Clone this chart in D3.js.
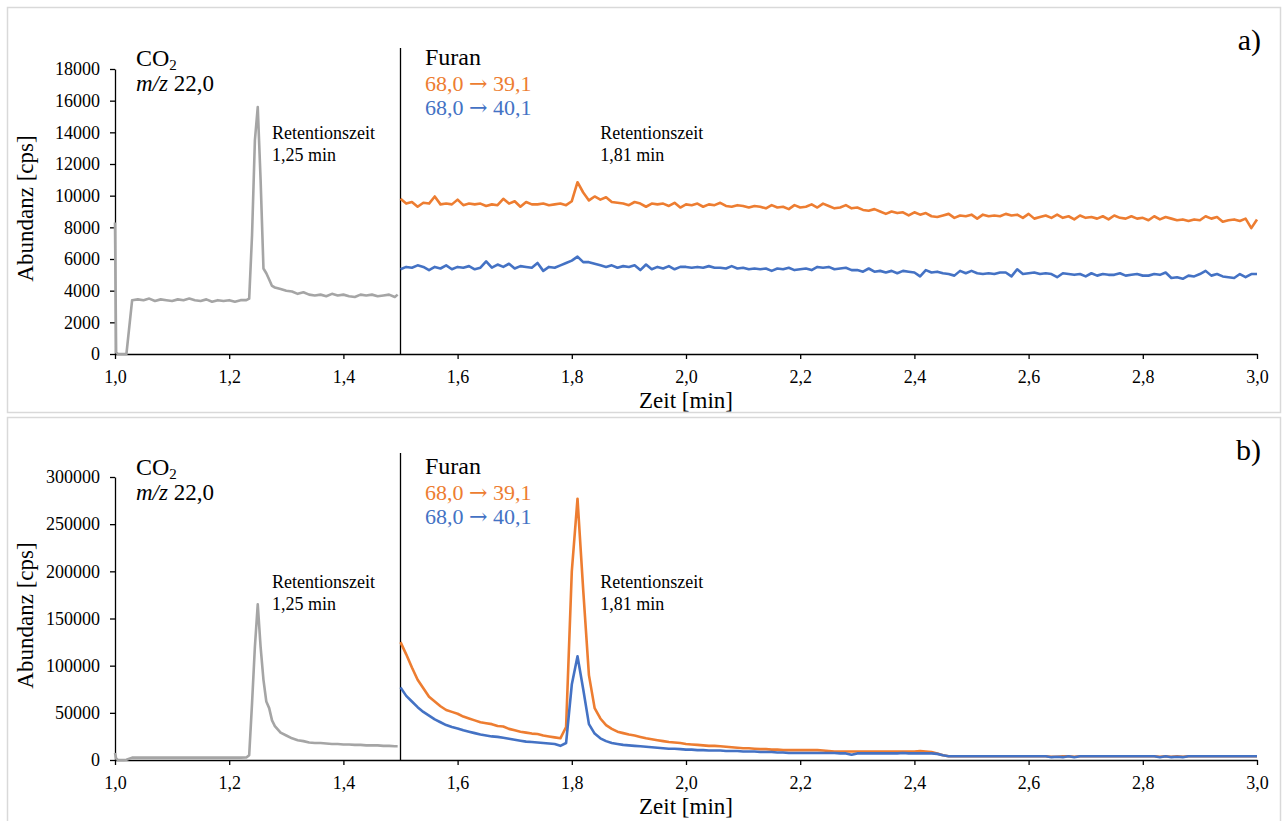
<!DOCTYPE html>
<html lang="de">
<head>
<meta charset="utf-8">
<script src="https://cdn.jsdelivr.net/npm/d3@7"></script>
<style>
  html, body { margin: 0; padding: 0; background: #fff; }
  svg { display: block; }
  text { font-family: "Liberation Serif", "Times New Roman", serif; fill: #000; }
</style>
</head>
<body>
<svg id="chart" width="1282" height="821"></svg>
<script>
/* ── Daten ─────────────────────────────────────────────── */

// Zeitpunkte der CO2-Spur (min)
const zeitCO2 = [
  1.000, 1.002, 1.005, 1.010, 1.015, 1.020,
  1.03, 1.04, 1.05, 1.06, 1.07, 1.08, 1.09, 1.10, 1.11, 1.12, 1.13,
  1.14, 1.15, 1.16, 1.17, 1.18, 1.19, 1.20, 1.21, 1.22, 1.23,
  1.235, 1.240, 1.245, 1.250, 1.255, 1.260, 1.265, 1.270, 1.275, 1.280,
  1.29, 1.30, 1.31, 1.32, 1.33, 1.34, 1.35, 1.36, 1.37, 1.38, 1.39,
  1.40, 1.41, 1.42, 1.43, 1.44, 1.45, 1.46, 1.47, 1.48, 1.49, 1.495
];

// CO2 m/z 22,0 – Messung a)
const co2A = [
  8300, 100, 0, 0, 0, 0,
  3400, 3450, 3400, 3500, 3350, 3450, 3400, 3350, 3450, 3400, 3500,
  3400, 3350, 3450, 3300, 3400, 3350, 3400, 3300, 3400, 3400,
  3500, 7500, 13500, 15600, 11000, 5400, 5100, 4700, 4300, 4200,
  4100, 4000, 3950, 3800, 3900, 3750, 3700, 3750, 3650, 3800, 3700,
  3750, 3650, 3600, 3750, 3700, 3750, 3650, 3700, 3750, 3600, 3750
];

// CO2 m/z 22,0 – Messung b)
const co2B = [
  7500, 1500, 0, 0, 0, 300,
  2500, 2600, 2500, 2500, 2600, 2500, 2500, 2500, 2600, 2500, 2500,
  2500, 2600, 2500, 2500, 2500, 2500, 2600, 2500, 2500, 2600,
  5000, 60000, 120000, 165000, 120000, 85000, 62000, 55000, 42000, 36000,
  29000, 26000, 23000, 21000, 20000, 18500, 18000, 18000, 17500, 17000, 17000,
  16500, 16500, 16000, 16000, 15500, 15500, 15500, 15000, 15000, 14500, 14500
];

// Furan-Spuren: ein Wert je 0,01 min von 1,50 bis 3,00
const furan391A = [
  9800, 9500, 9600, 9300, 9550, 9500, 9950, 9450, 9500, 9450,
  9750, 9400, 9500, 9450, 9500, 9350, 9450, 9400, 9800, 9500,
  9650, 9300, 9600, 9450, 9450, 9500, 9400, 9450, 9500, 9400,
  9650, 10850, 10200, 9700, 9950, 9750, 9900, 9600, 9550, 9500,
  9400, 9600, 9500, 9300, 9500, 9450, 9500, 9350, 9550, 9250,
  9450, 9400, 9500, 9300, 9450, 9400, 9550, 9350, 9300, 9400,
  9350, 9250, 9350, 9300, 9200, 9400, 9250, 9300, 9150, 9400,
  9250, 9300, 9450, 9250, 9500, 9350, 9200, 9250, 9400, 9200,
  9250, 9100, 9050, 9150, 9000, 8850, 9000, 8900, 8950, 8750,
  8950, 8800, 8900, 8700, 8650, 8750, 8850, 8600, 8750, 8700,
  8800, 8550, 8800, 8700, 8750, 8700, 8850, 8750, 8800, 8600,
  8850, 8550, 8650, 8750, 8600, 8800, 8600, 8700, 8500, 8750,
  8600, 8650, 8550, 8700, 8500, 8750, 8600, 8550, 8700, 8550,
  8600, 8450, 8700, 8500, 8650, 8550, 8450, 8500, 8400, 8500,
  8450, 8700, 8550, 8650, 8350, 8450, 8500, 8400, 8550, 7950,
  8500
];

const furan401A = [
  5350, 5500, 5450, 5600, 5500, 5300, 5500, 5400, 5600, 5350,
  5500, 5450, 5550, 5350, 5450, 5850, 5450, 5650, 5500, 5700,
  5400, 5550, 5500, 5450, 5750, 5250, 5500, 5450, 5600, 5750,
  5900, 6150, 5800, 5800, 5700, 5600, 5500, 5600, 5450, 5550,
  5500, 5600, 5300, 5650, 5350, 5500, 5400, 5550, 5350, 5500,
  5500, 5450, 5500, 5450, 5550, 5450, 5450, 5400, 5550, 5400,
  5450, 5350, 5400, 5350, 5400, 5250, 5400, 5350, 5450, 5300,
  5350, 5400, 5300, 5500, 5450, 5500, 5350, 5400, 5450, 5300,
  5300, 5200, 5400, 5200, 5250, 5150, 5250, 5100, 5250, 5200,
  5150, 4900, 5300, 5150, 5200, 5100, 5050, 4950, 5250, 5100,
  5250, 5100, 5050, 5100, 5050, 5150, 5150, 4900, 5350, 5050,
  5100, 5150, 5050, 5100, 5050, 4850, 5100, 5050, 5000, 5050,
  4900, 5100, 4950, 5050, 5000, 5000, 5100, 4950, 5000, 5050,
  4950, 4950, 5050, 5000, 5150, 4800, 4850, 4750, 4950, 4900,
  5050, 5250, 4950, 5050, 4900, 4850, 4800, 5050, 4850, 5050,
  5050
];

const furan391B = [
  125000, 112000, 98000, 85000, 76000, 67000, 62000, 57000, 53000, 51000,
  49000, 46000, 44000, 42000, 40000, 39000, 38000, 36000, 35500, 33000,
  31500, 30000, 29000, 28000, 27500, 26000, 25000, 24000, 23000, 35000,
  200000, 277000, 180000, 90000, 55000, 44000, 37000, 33000, 30000, 28500,
  27000, 26000, 24500, 23000, 22000, 21000, 20000, 19000, 18500, 18000,
  17000, 16500, 16000, 15500, 15000, 15000, 14500, 14000, 13500, 13000,
  12500, 12500, 12000, 11500, 11500, 11000, 11000, 10500, 10500, 10500,
  10500, 10500, 10500, 10500, 10000, 9500, 9000, 9000, 9000, 9000,
  9000, 9000, 9000, 9000, 9000, 9000, 9000, 9000, 9000, 9000,
  9000, 9500, 9000, 8500, 7000, 5000, 4000, 4000, 4000, 4000,
  4000, 4000, 4000, 4000, 4000, 4000, 4000, 4000, 4000, 4000,
  4000, 4000, 4000, 4000, 3500, 3500, 4000, 4000, 3500, 4000,
  4000, 4000, 4000, 4000, 4000, 4000, 4000, 4000, 4000, 4000,
  4000, 4000, 4000, 3500, 4000, 3500, 4000, 3500, 4000, 4000,
  4000, 4000, 4000, 4000, 4000, 4000, 4000, 4000, 4000, 4000,
  4000
];

const furan401B = [
  77000, 68000, 62000, 56000, 51000, 47000, 43000, 40000, 37000, 35000,
  33500, 31500, 30000, 28500, 27000, 26000, 25000, 24500, 23500, 22500,
  21500, 20500, 19500, 19000, 18500, 18000, 17500, 17000, 15000, 18000,
  80000, 110000, 75000, 38000, 28000, 23000, 20000, 18000, 17000, 16000,
  15500, 15000, 14500, 14000, 13500, 13000, 12500, 12000, 12000, 11500,
  11000, 11000, 10500, 10500, 10000, 10000, 10000, 9500, 9500, 9500,
  9000, 9000, 9000, 8500, 8500, 8500, 8000, 8000, 7500, 7500,
  7500, 7500, 7500, 7500, 7500, 7500, 7500, 7000, 7000, 5500,
  7000, 7000, 7000, 7000, 7000, 7000, 7000, 7000, 7500, 7000,
  7000, 7000, 7000, 7000, 6500, 5000, 4000, 4000, 4000, 4000,
  4000, 4000, 4000, 4000, 4000, 4000, 4000, 4000, 4000, 4000,
  4000, 4000, 4000, 4000, 3000, 3500, 3000, 4000, 3000, 4000,
  4000, 4000, 4000, 4000, 4000, 4000, 4000, 4000, 4000, 4000,
  4000, 4000, 4000, 3000, 4000, 3000, 3500, 3000, 4000, 4000,
  4000, 4000, 4000, 4000, 4000, 4000, 4000, 4000, 4000, 4000,
  4000
];

// Achsen
const xTicks = [1.0, 1.2, 1.4, 1.6, 1.8, 2.0, 2.2, 2.4, 2.6, 2.8, 3.0];
const yTicksA = [0, 2000, 4000, 6000, 8000, 10000, 12000, 14000, 16000, 18000];
const yTicksB = [0, 50000, 100000, 150000, 200000, 250000, 300000];

const zeitFuran = d3.range(furan391A.length).map(i => +(1.5 + i / 100).toFixed(2));

/* ── Aufbau ────────────────────────────────────────────── */
(function() {
  const svg = d3.select("#chart");
  const farben = { co2: "#A5A5A5", f391: "#ED7D31", f401: "#4472C4" };
  const schrift = "'Liberation Serif', 'Times New Roman', serif";

  const panels = [
    { label: "a)", box: [8, 413], yBot: 354, yTop: 69, trenn: 48, ticks: yTicksA,
      co2: co2A, f391: furan391A, f401: furan401A,
      kopf: 66, furanKopf: 65, rt: 139 },
    { label: "b)", box: [418, 835], yBot: 760, yTop: 477, trenn: 453, ticks: yTicksB,
      co2: co2B, f391: furan391B, f401: furan401B,
      kopf: 475, furanKopf: 474, rt: 588 }
  ];

  const x = d3.scaleLinear().domain([1.0, 3.0]).range([115, 1257]);
  const fmtX = d => d.toFixed(1).replace(".", ",");

  panels.forEach(p => {
    // Rahmen
    svg.append("rect")
      .attr("x", 7.5).attr("y", p.box[0] - 0.5)
      .attr("width", 1273).attr("height", p.box[1] - p.box[0])
      .attr("fill", "none").attr("stroke", "#d9d9d9").attr("stroke-width", 1.5);

    const y = d3.scaleLinear()
      .domain([0, d3.max(p.ticks)])
      .range([p.yBot, p.yTop]);

    const g = svg.append("g");

    // Achsen
    const ax = g.append("g")
      .attr("transform", `translate(0,${p.yBot})`)
      .call(d3.axisBottom(x).tickValues(xTicks).tickFormat(fmtX)
        .tickSize(5).tickSizeOuter(0).tickPadding(11));
    const ay = g.append("g")
      .attr("transform", "translate(115,0)")
      .call(d3.axisLeft(y).tickValues(p.ticks).tickFormat(d3.format("d"))
        .tickSize(5).tickSizeOuter(0).tickPadding(10));
    [ax, ay].forEach(a => {
      a.selectAll("text").attr("font-family", schrift).attr("font-size", 18).attr("fill", "#000");
      a.selectAll("line, path").attr("stroke", "#000").attr("stroke-width", 1.3);
    });

    // Trennlinie CO2 | Furan
    g.append("line")
      .attr("x1", x(1.5)).attr("x2", x(1.5))
      .attr("y1", p.trenn).attr("y2", p.yBot)
      .attr("stroke", "#000").attr("stroke-width", 1.3);

    // Spuren
    const linie = d3.line().x(d => x(d[0])).y(d => y(d[1]));
    const spuren = [
      { t: zeitCO2, v: p.co2, c: farben.co2 },
      { t: zeitFuran, v: p.f391, c: farben.f391 },
      { t: zeitFuran, v: p.f401, c: farben.f401 }
    ];
    spuren.forEach(s => {
      g.append("path")
        .datum(s.t.map((t, i) => [t, s.v[i]]))
        .attr("d", linie)
        .attr("fill", "none")
        .attr("stroke", s.c)
        .attr("stroke-width", 2.6)
        .attr("stroke-linejoin", "round");
    });

    // Achsentitel
    g.append("text")
      .attr("transform", `translate(33,${(p.yBot + p.yTop) / 2 - 3}) rotate(-90)`)
      .attr("text-anchor", "middle")
      .attr("font-size", 23)
      .text("Abundanz [cps]");
    g.append("text")
      .attr("x", 686).attr("y", p.yBot + 54)
      .attr("text-anchor", "middle")
      .attr("font-size", 23)
      .text("Zeit [min]");

    // Panelkennung
    g.append("text")
      .attr("x", 1261).attr("y", p.box[0] + 42)
      .attr("text-anchor", "end")
      .attr("font-size", 30)
      .text(p.label);

    // CO2-Beschriftung
    const co2 = g.append("text").attr("x", 136).attr("y", p.kopf).attr("font-size", 24);
    co2.append("tspan").text("CO");
    co2.append("tspan").attr("font-size", 15).attr("dy", 4).text("2");
    const mz = g.append("text").attr("x", 136).attr("y", p.kopf + 25).attr("font-size", 23);
    mz.append("tspan").attr("font-style", "italic").text("m/z");
    mz.append("tspan").text(" 22,0");

    // Furan-Beschriftung
    g.append("text").attr("x", 425).attr("y", p.furanKopf).attr("font-size", 24).text("Furan");
    [[farben.f391, "39,1", 26], [farben.f401, "40,1", 50]].forEach(([c, ziel, dy]) => {
      const t = g.append("text").attr("x", 425).attr("y", p.furanKopf + dy)
        .attr("font-size", 22).style("fill", c);
      t.append("tspan").style("fill", c).text("68,0 ");
      t.append("tspan").style("fill", c)
        .attr("font-family", "'DejaVu Serif', serif").attr("font-size", 22)
        .text("\u2192");
      t.append("tspan").style("fill", c).text(" " + ziel);
    });

    // Retentionszeiten
    [[1.275, "1,25 min"], [1.85, "1,81 min"]].forEach(([t, txt]) => {
      g.append("text").attr("x", x(t)).attr("y", p.rt).attr("font-size", 18).text("Retentionszeit");
      g.append("text").attr("x", x(t)).attr("y", p.rt + 22).attr("font-size", 18).text(txt);
    });
  });
})();
</script>
</body>
</html>
